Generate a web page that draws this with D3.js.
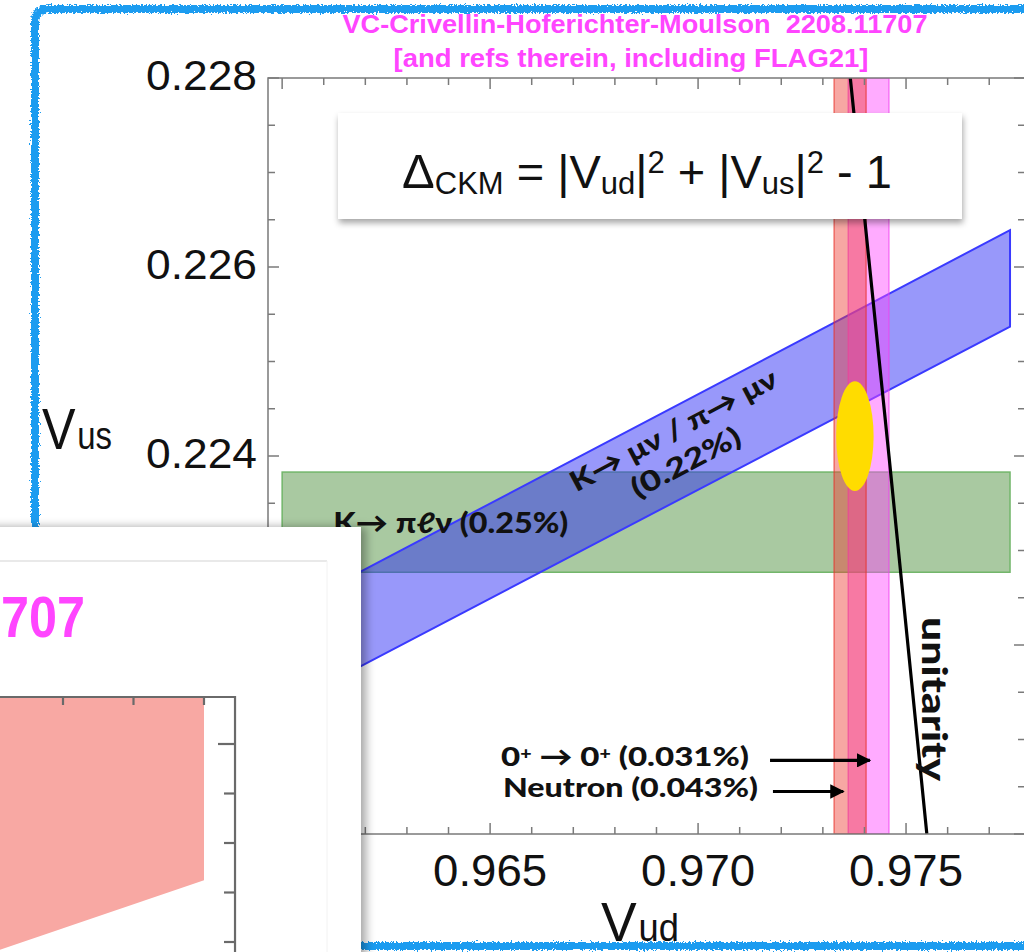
<!DOCTYPE html>
<html><head><meta charset="utf-8">
<script src="https://cdn.jsdelivr.net/npm/d3@7"></script>
<style>html,body{margin:0;padding:0;background:#fff;overflow:hidden}</style>
</head><body><svg id="c" width="1024" height="952"></svg>
<script>
// ---- axes ----
const vudDomain = [0.95966, 0.97786];
const vusDomain = [0.220, 0.228];
const vudTicks = d3.range(0, 18).map(i => +(0.960 + i * 0.001).toFixed(3));
const vusTicks = d3.range(0, 17).map(i => +(0.220 + i * 0.0005).toFixed(4));
const vudLabels = [0.960, 0.965, 0.970, 0.975];
const vusLabels = [0.220, 0.222, 0.224, 0.226, 0.228];

// ---- constraints ----
// K -> pi l nu : horizontal band in Vus
const kl3Band = {vudLo: 0.960, vudHi: 0.9775, vusLo: 0.22277, vusHi: 0.22383};
// K -> mu nu / pi -> mu nu : band of fixed Vus/Vud, edges at both ends
const kl2Edges = [
  {vud: 0.960,  lo: 0.22134, hi: 0.22234},
  {vud: 0.9775, lo: 0.22537, hi: 0.22639}
];
// beta-decay determinations of Vud (drawn in this order)
const vudBands = [
  {name: "superallowed", lo: 0.97361, hi: 0.97459, fill: "#ff44ff", opacity: 0.45, edge: "#f040f0"},
  {name: "neutron",      lo: 0.97327, hi: 0.97404, fill: "#ee3c34", opacity: 0.45, edge: "#e8302a"}
];
// combined fit
const fitEllipse = {vud: 0.97377, vus: 0.22421, dVud: 0.00045, dVus: 0.00058};
// |Vud|^2 + |Vus|^2 = 1
const unitarity = [
  {vud: 0.97366, vus: 0.228},
  {vud: 0.97459, vus: 0.224},
  {vud: 0.97550, vus: 0.220}
];
// annotations
const arrows = [
  {text: ["0", "+", " \u2192 0", "+", " (0.031%)"], from: 0.97173, to: 0.97413, vus: 0.22078, gap: 21, width: 248},
  {text: ["Neutron (0.043%)"],                         from: 0.97180, to: 0.97349, vus: 0.22045, gap: 15, width: 255}
];

// inset window (partial view of a second figure)
const insetXTicks = [1, 2, 3];
const insetYTicks = [0, 1, 2, 3, 4];
const insetRegion = [[0.1, 4.95], [3.0, 4.95], [3.0, 1.25], [0.1, -0.16]];

const svg = d3.select("#c");
const defs = svg.append("defs");
const rough = defs.append("filter").attr("id", "rough").attr("x", "-5%").attr("y", "-5%").attr("width", "110%").attr("height", "110%");
rough.append("feTurbulence").attr("type", "fractalNoise").attr("baseFrequency", 0.55).attr("numOctaves", 2).attr("seed", 4).attr("result", "n");
rough.append("feDisplacementMap").attr("in", "SourceGraphic").attr("in2", "n").attr("scale", 6).attr("xChannelSelector", "R").attr("yChannelSelector", "G");
const shadow = defs.append("filter").attr("id", "shadow").attr("x", "-10%").attr("y", "-20%").attr("width", "120%").attr("height", "150%");
shadow.append("feDropShadow").attr("dx", 1).attr("dy", 4).attr("stdDeviation", 3).attr("flood-color", "#000").attr("flood-opacity", 0.35);
const shadowR = defs.append("filter").attr("id", "shadowR").attr("x", "-10%").attr("y", "-10%").attr("width", "130%").attr("height", "120%");
shadowR.append("feDropShadow").attr("dx", 5).attr("dy", 0).attr("stdDeviation", 5).attr("flood-color", "#000").attr("flood-opacity", 0.35);

svg.append("rect").attr("width", 1024).attr("height", 952).attr("fill", "#fff");

const x = d3.scaleLinear().domain(vudDomain).range([268, 1025]);
const y = d3.scaleLinear().domain(vusDomain).range([834, 78]);

const plot = svg.append("g");
defs.append("clipPath").attr("id", "pc").append("rect")
  .attr("x", x(vudDomain[0])).attr("y", y(vusDomain[1]))
  .attr("width", x(vudDomain[1]) - x(vudDomain[0])).attr("height", y(vusDomain[0]) - y(vusDomain[1]));
const marks = plot.append("g").attr("clip-path", "url(#pc)");

// K -> pi l nu
marks.append("rect")
  .attr("x", x(kl3Band.vudLo)).attr("y", y(kl3Band.vusHi))
  .attr("width", x(kl3Band.vudHi) - x(kl3Band.vudLo))
  .attr("height", y(kl3Band.vusLo) - y(kl3Band.vusHi))
  .attr("fill", "#a9c9a1").attr("stroke", "#72b66a").attr("stroke-width", 1.5);

// K -> mu nu / pi -> mu nu
const kl2Poly = [
  [kl2Edges[0].vud, kl2Edges[0].hi], [kl2Edges[1].vud, kl2Edges[1].hi],
  [kl2Edges[1].vud, kl2Edges[1].lo], [kl2Edges[0].vud, kl2Edges[0].lo]
];
marks.append("path")
  .attr("d", d3.line().x(d => x(d[0])).y(d => y(d[1]))(kl2Poly) + "Z")
  .attr("fill", "rgba(40,40,245,0.48)").attr("stroke", "#3a3aff").attr("stroke-width", 2);

// Vud bands
vudBands.forEach(b => {
  marks.append("rect")
    .attr("x", x(b.lo)).attr("y", y(vusDomain[1]))
    .attr("width", x(b.hi) - x(b.lo)).attr("height", y(vusDomain[0]) - y(vusDomain[1]))
    .attr("fill", b.fill).attr("fill-opacity", b.opacity)
    .attr("stroke", b.edge).attr("stroke-opacity", 0.6).attr("stroke-width", 1.5);
});

// fit ellipse
marks.append("ellipse")
  .attr("cx", x(fitEllipse.vud)).attr("cy", y(fitEllipse.vus))
  .attr("rx", x(fitEllipse.vud + fitEllipse.dVud) - x(fitEllipse.vud))
  .attr("ry", y(fitEllipse.vus) - y(fitEllipse.vus + fitEllipse.dVus))
  .attr("fill", "#ffdc00");

// unitarity
marks.append("path")
  .attr("d", d3.line().x(d => x(d.vud)).y(d => y(d.vus)).curve(d3.curveMonotoneY)(unitarity))
  .attr("fill", "none").attr("stroke", "#000").attr("stroke-width", 3.2);

// frame + ticks
const frameColor = "#7a7a7a";
const fr = plot.append("g").attr("stroke", frameColor).attr("stroke-width", 1.5).attr("fill", "none");
fr.append("rect").attr("x", x(vudDomain[0])).attr("y", y(vusDomain[1]))
  .attr("width", x(vudDomain[1]) - x(vudDomain[0])).attr("height", y(vusDomain[0]) - y(vusDomain[1]));
const isMajorX = v => vudLabels.some(l => Math.abs(l - v) < 1e-6);
const isMajorY = v => vusLabels.some(l => Math.abs(l - v) < 1e-6);
vudTicks.forEach(v => {
  const L = isMajorX(v) ? 11 : 7;
  fr.append("line").attr("x1", x(v)).attr("x2", x(v)).attr("y1", y(vusDomain[0])).attr("y2", y(vusDomain[0]) - L);
  fr.append("line").attr("x1", x(v)).attr("x2", x(v)).attr("y1", y(vusDomain[1])).attr("y2", y(vusDomain[1]) + L);
});
vusTicks.forEach(v => {
  const L = isMajorY(v) ? 11 : 7;
  fr.append("line").attr("y1", y(v)).attr("y2", y(v)).attr("x1", x(vudDomain[0])).attr("x2", x(vudDomain[0]) + L);
  fr.append("line").attr("y1", y(v)).attr("y2", y(v)).attr("x1", x(vudDomain[1])).attr("x2", x(vudDomain[1]) - L);
});
const fmt = d3.format(".3f");
const tickFont = "'Liberation Sans', Arial, sans-serif";
plot.append("g").selectAll("text").data(vusLabels).join("text")
  .attr("x", 257).attr("y", d => y(d) + 12).attr("text-anchor", "end")
  .attr("font-family", tickFont).attr("font-size", 43).attr("fill", "#111")
  .attr("textLength", 111).attr("lengthAdjust", "spacingAndGlyphs").text(fmt);
plot.append("g").selectAll("text").data(vudLabels).join("text")
  .attr("x", d => x(d)).attr("y", 886).attr("text-anchor", "middle")
  .attr("font-family", tickFont).attr("font-size", 45).attr("fill", "#111")
  .attr("textLength", 114).attr("lengthAdjust", "spacingAndGlyphs").text(fmt);

// axis titles
const vus = svg.append("text").attr("x", 42).attr("y", 449).attr("font-family", tickFont).attr("fill", "#111")
  .attr("textLength", 70).attr("lengthAdjust", "spacingAndGlyphs");
vus.append("tspan").attr("font-size", 58).text("V");
vus.append("tspan").attr("font-size", 38).attr("dx", 2).text("us");
const vudT = svg.append("text").attr("x", 601).attr("y", 941).attr("font-family", tickFont).attr("fill", "#111")
  .attr("textLength", 78).attr("lengthAdjust", "spacingAndGlyphs");
vudT.append("tspan").attr("font-size", 56).text("V");
vudT.append("tspan").attr("font-size", 38).attr("dx", 2).text("ud");

// band labels
const boldFont = "Lato, 'Open Sans', sans-serif";
svg.append("text").attr("x", x(0.96123)).attr("y", y(0.22319))
  .attr("font-family", boldFont).attr("font-weight", 900).attr("font-size", 28).attr("fill", "#111")
  .attr("textLength", 235).attr("lengthAdjust", "spacingAndGlyphs")
  .text("K\u2192 \u03c0\u2113\u03bd (0.25%)");

const angle = Math.atan2(y(kl2Edges[1].hi) - y(kl2Edges[0].hi), x(kl2Edges[1].vud) - x(kl2Edges[0].vud)) * 180 / Math.PI;
const kl2Lab = svg.append("g").attr("transform", `translate(${x(0.96952)},${y(0.22418)}) rotate(${angle})`);
kl2Lab.append("text").attr("text-anchor", "middle").attr("font-family", boldFont).attr("font-weight", 900)
  .attr("font-size", 28).attr("fill", "#111").attr("textLength", 230).attr("lengthAdjust", "spacingAndGlyphs")
  .text("K\u2192 \u03bc\u03bd / \u03c0\u2192 \u03bc\u03bd");
kl2Lab.append("text").attr("x", -4).attr("y", 34).attr("text-anchor", "middle").attr("font-family", boldFont).attr("font-weight", 900)
  .attr("font-size", 28).attr("fill", "#111").attr("textLength", 120).attr("lengthAdjust", "spacingAndGlyphs")
  .text("(0.22%)");

// unitarity label
svg.append("text").attr("transform", `translate(922,617) rotate(90)`)
  .attr("font-family", boldFont).attr("font-weight", 900).attr("font-size", 34).attr("fill", "#111")
  .attr("textLength", 164).attr("lengthAdjust", "spacingAndGlyphs").text("unitarity");

// arrows
defs.append("marker").attr("id", "ah").attr("viewBox", "0 0 10 10").attr("refX", 9).attr("refY", 5)
  .attr("markerWidth", 4.5).attr("markerHeight", 4.5).attr("orient", "auto")
  .append("path").attr("d", "M0,0 L10,5 L0,10 Z").attr("fill", "#000");
arrows.forEach(a => {
  svg.append("line").attr("x1", x(a.from)).attr("x2", x(a.to)).attr("y1", y(a.vus)).attr("y2", y(a.vus))
    .attr("stroke", "#000").attr("stroke-width", 3.2).attr("marker-end", "url(#ah)");
  const t = svg.append("text").attr("x", x(a.from) - a.gap).attr("y", y(a.vus) + 6).attr("text-anchor", "end")
    .attr("font-family", boldFont).attr("font-weight", 900).attr("font-size", 27).attr("fill", "#111")
    .attr("textLength", a.width).attr("lengthAdjust", "spacingAndGlyphs");
  a.text.forEach(s => {
    if (s === "+") t.append("tspan").attr("font-size", 16).attr("baseline-shift", "45%").text(s);
    else t.append("tspan").text(s);
  });
});

// Delta CKM box
svg.append("rect").attr("x", 338).attr("y", 113).attr("width", 624).attr("height", 106)
  .attr("fill", "#fff").attr("filter", "url(#shadow)");
const eq = svg.append("text").attr("x", 647).attr("y", 188).attr("text-anchor", "middle")
  .attr("font-family", tickFont).attr("fill", "#111");
[["\u0394", 49, 0], ["CKM", 31, 6], ["\u00a0=\u00a0|V", 47, -6], ["ud", 31, 6], ["|", 47, -6], ["2", 31, -15],
 ["\u00a0+\u00a0|V", 47, 15], ["us", 31, 6], ["|", 47, -6], ["2", 31, -15], ["\u00a0-\u00a01", 47, 15]]
  .forEach(([s, fs, dy]) => eq.append("tspan").attr("font-size", fs).attr("dy", dy).text(s));

// title
const titleFont = "'Liberation Sans Narrow', 'Liberation Sans', Arial, sans-serif";
svg.append("text").attr("x", 635).attr("y", 33).attr("text-anchor", "middle")
  .attr("font-family", titleFont).attr("font-weight", "bold").attr("font-size", 26).attr("fill", "#ff45ff")
  .attr("textLength", 585).attr("lengthAdjust", "spacingAndGlyphs")
  .text("VC-Crivellin-Hoferichter-Moulson\u00a0 2208.11707");
svg.append("text").attr("x", 631).attr("y", 67).attr("text-anchor", "middle")
  .attr("font-family", titleFont).attr("font-weight", "bold").attr("font-size", 26).attr("fill", "#ff45ff")
  .attr("textLength", 475).attr("lengthAdjust", "spacingAndGlyphs")
  .text("[and refs therein, including FLAG21]");

// hand-drawn frame
svg.append("path")
  .attr("d", "M1040,9 L48,9 Q35,9 35,22 L35,932 Q35,946 48,946 L1040,946")
  .attr("fill", "none").attr("stroke", "#1c9cf0").attr("stroke-width", 8).attr("filter", "url(#rough)");

// inset window
const inset = svg.append("g");
inset.append("rect").attr("x", -20).attr("y", 527).attr("width", 381).attr("height", 450)
  .attr("fill", "#fff").attr("filter", "url(#shadowR)");
inset.append("line").attr("x1", 0).attr("x2", 327).attr("y1", 561).attr("y2", 561).attr("stroke", "#e2e2e2").attr("stroke-width", 1.5);
inset.append("line").attr("x1", 327).attr("x2", 327).attr("y1", 561).attr("y2", 952).attr("stroke", "#f2f2f2").attr("stroke-width", 1);
inset.append("text").attr("x", 1).attr("y", 637)
  .attr("font-family", titleFont).attr("font-weight", "bold").attr("font-size", 58).attr("fill", "#ff45ff")
  .attr("textLength", 84).attr("lengthAdjust", "spacingAndGlyphs")
  .text("707");
const ix = d3.scaleLinear().domain([1, 3]).range([63, 204]);
const iy = d3.scaleLinear().domain([0, 4]).range([942, 744]);
inset.append("path").attr("d", d3.line().x(d => ix(d[0])).y(d => iy(d[1]))(insetRegion) + "Z").attr("fill", "#f8a8a3");
const ig = inset.append("g").attr("stroke", "#6a6a6a").attr("stroke-width", 2.2).attr("fill", "none");
ig.append("path").attr("d", `M0,${iy(4.95)} L${ix(3.44)},${iy(4.95)} L${ix(3.44)},960`);
insetXTicks.forEach(v => ig.append("line").attr("x1", ix(v)).attr("x2", ix(v)).attr("y1", iy(4.95)).attr("y2", iy(4.95) + 8));
insetYTicks.forEach(v => ig.append("line").attr("y1", iy(v)).attr("y2", iy(v)).attr("x1", ix(3.44)).attr("x2", ix(3.44) - (v === 4 ? 17 : 11)));
</script></body></html>
